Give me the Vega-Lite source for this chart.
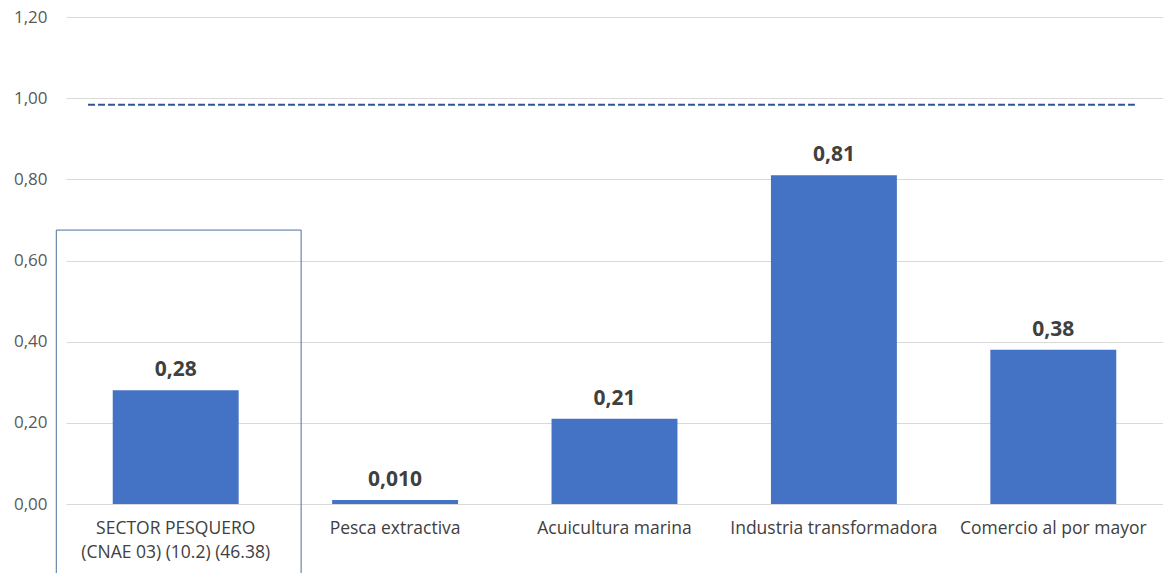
{
  "$schema": "https://vega.github.io/schema/vega-lite/v6.json",
  "autosize": "none",
  "width": 1097,
  "height": 487,
  "padding": {"left": 66, "top": 17, "right": 0, "bottom": 69},
  "background": "white",
  "config": {"view": {"stroke": null}, "font": "Open Sans"},
  "datasets": {
    "bars": [
      {"cat": "SECTOR PESQUERO (CNAE 03) (10.2) (46.38)", "value": 0.28, "label": "0,28"},
      {"cat": "Pesca extractiva", "value": 0.010, "label": "0,010"},
      {"cat": "Acuicultura marina", "value": 0.21, "label": "0,21"},
      {"cat": "Industria transformadora", "value": 0.81, "label": "0,81"},
      {"cat": "Comercio al por mayor", "value": 0.38, "label": "0,38"}
    ],
    "ref": [
      {"start": "SECTOR PESQUERO (CNAE 03) (10.2) (46.38)", "end": "Comercio al por mayor", "value": 0.984}
    ],
    "box": [
      {"cat": "SECTOR PESQUERO (CNAE 03) (10.2) (46.38)", "top": 0.675, "bottom": -0.2}
    ]
  },
  "encoding": {
    "x": {
      "field": "cat", "type": "nominal", "sort": null,
      "scale": {"domain": ["SECTOR PESQUERO (CNAE 03) (10.2) (46.38)", "Pesca extractiva", "Acuicultura marina", "Industria transformadora", "Comercio al por mayor"], "paddingInner": 0.426, "paddingOuter": 0.213},
      "axis": {
        "title": null, "labelAngle": 0, "domain": false, "ticks": false,
        "labelFontSize": 17.5, "labelColor": "#404040", "labelPadding": 15, "labelLineHeight": 24,
        "labelBaseline": "top", "labelLimit": 300,
        "labelExpr": "datum.value == 'SECTOR PESQUERO (CNAE 03) (10.2) (46.38)' ? ['SECTOR PESQUERO', '(CNAE 03) (10.2) (46.38)'] : datum.value"
      }
    }
  },
  "layer": [
    {
      "data": {"name": "bars"},
      "mark": {"type": "bar", "color": "#4472C4"},
      "encoding": {
        "y": {
          "field": "value", "type": "quantitative",
          "scale": {"domain": [0, 1.2], "nice": false},
          "axis": {
            "title": null, "domain": false, "ticks": false, "values": [0, 0.2, 0.4, 0.6, 0.8, 1.0, 1.2],
            "labelExpr": "replace(format(datum.value, '.2f'), '.', ',')",
            "labelFontSize": 17, "labelColor": "#595959", "labelPadding": 19,
            "gridColor": "#d9d9d9", "gridWidth": 1
          }
        }
      }
    },
    {
      "data": {"name": "bars"},
      "mark": {"type": "text", "fontWeight": "bold", "fontSize": 21, "color": "#404040", "baseline": "alphabetic", "dy": -14},
      "encoding": {
        "y": {"field": "value", "type": "quantitative"},
        "text": {"field": "label"}
      }
    },
    {
      "data": {"name": "ref"},
      "mark": {"type": "rule", "color": "#2f5597", "strokeWidth": 2, "strokeDash": [7, 3]},
      "encoding": {
        "x": {"field": "start", "type": "nominal", "bandPosition": -0.196},
        "x2": {"field": "end", "bandPosition": 1.148},
        "y": {"field": "value", "type": "quantitative"}
      }
    },
    {
      "data": {"name": "box"},
      "mark": {"type": "bar", "fill": null, "fillOpacity": 0, "stroke": "#4a6f9a", "strokeWidth": 1, "width": {"band": 1.944}, "xOffset": 3},
      "encoding": {
        "y": {"field": "top", "type": "quantitative"},
        "y2": {"field": "bottom"}
      }
    }
  ]
}
